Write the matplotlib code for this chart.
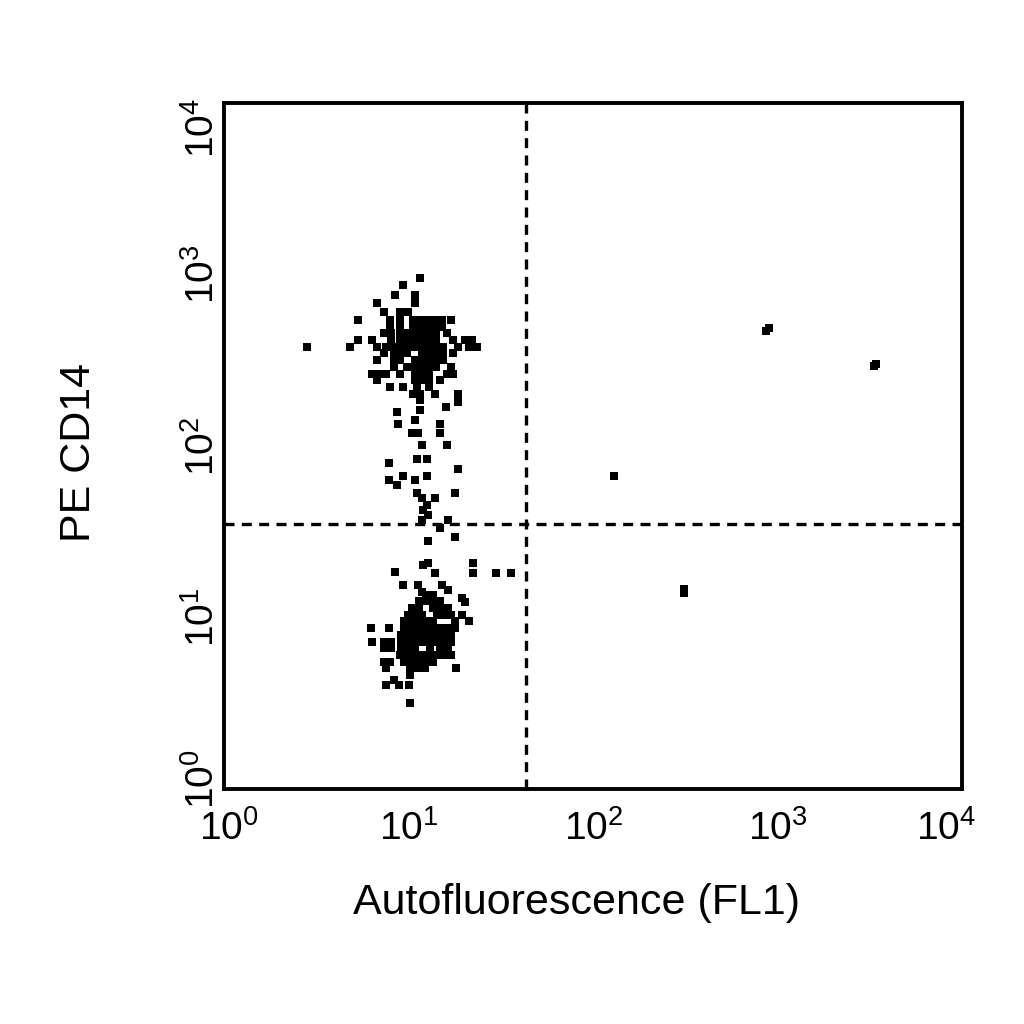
import numpy as np
import matplotlib
matplotlib.use("Agg")
import matplotlib.pyplot as plt
import matplotlib.transforms as mtransforms

plt.rcParams['font.family'] = ['Liberation Sans', 'DejaVu Sans']

# events as (FL1 channel, FL2 channel), 1024 channels over 4 decades
upper_pop = [
    (272, 763), (248, 752), (237, 738), (265, 738), (212, 726), (265, 726),
    (221, 712), (244, 712), (255, 712),
    (186, 700), (230, 700), (244, 700), (262, 700), (272, 700), (282, 700), (292, 700), (302, 700), (314, 700),
    (230, 690), (244, 690), (262, 690), (272, 690), (282, 690), (292, 690), (302, 690),
    (221, 680), (232, 680), (244, 680), (254, 680), (264, 680), (274, 680), (284, 680), (294, 680), (309, 680),
    (186, 670), (205, 670), (232, 670), (244, 670), (254, 670), (264, 670), (274, 670), (284, 670), (294, 670),
    (318, 670), (334, 670), (344, 670),
    (175, 660), (212, 660), (225, 660), (235, 660), (244, 660), (254, 660), (264, 660), (274, 660), (284, 660),
    (294, 660), (304, 660), (325, 660), (340, 660), (350, 660),
    (221, 650), (235, 650), (244, 650), (254, 650), (274, 650), (284, 650), (294, 650), (304, 650), (318, 650),
    (212, 640), (235, 640), (244, 640), (264, 640), (274, 640), (284, 640), (294, 640), (304, 640),
    (235, 630), (254, 630), (264, 630), (274, 630), (284, 630), (294, 630), (314, 630),
    (205, 620), (215, 620), (225, 620), (244, 620), (264, 620), (274, 620), (284, 620), (309, 620), (318, 620),
    (212, 610), (264, 610), (274, 610), (284, 610), (300, 610),
    (230, 600), (248, 600), (268, 600), (284, 600),
    (262, 590), (272, 590), (292, 590), (325, 590),
]

middle_pop = [
    (272, 580), (272, 566), (265, 551), (240, 563), (307, 570), (325, 578), (241, 545), (300, 545),
    (269, 531), (261, 531), (300, 531), (275, 513), (309, 513), (268, 493), (282, 493), (229, 487),
    (325, 478), (248, 467), (229, 461), (240, 454), (265, 461), (282, 467), (268, 442), (320, 442),
    (275, 434), (293, 434), (282, 424), (276, 416), (283, 409), (275, 401), (311, 401), (300, 390),
    (320, 376), (283, 370), (283, 337), (276, 334), (345, 337), (237, 324), (293, 322), (345, 322),
    (377, 322), (398, 322),
]

lower_pop = [
    (248, 304), (269, 304), (275, 294), (302, 304), (311, 297), (330, 285), (334, 279),
    (280, 290), (290, 290),
    (270, 280), (280, 280), (290, 280), (300, 280),
    (260, 270), (270, 270), (290, 270), (300, 270), (310, 270),
    (255, 260), (265, 260), (275, 260), (295, 260), (305, 260), (315, 260), (330, 260),
    (250, 250), (260, 250), (270, 250), (280, 250), (290, 250), (320, 250), (340, 250),
    (203, 240), (228, 240), (250, 240), (260, 240), (270, 240), (280, 240), (290, 240), (300, 240), (310, 240), (320, 240),
    (245, 230), (255, 230), (265, 230), (275, 230), (285, 230), (295, 230), (305, 230), (315, 230),
    (205, 220), (221, 220), (232, 220), (245, 220), (255, 220), (265, 220), (275, 220), (285, 220), (295, 220),
    (305, 220), (315, 220),
    (221, 210), (232, 210), (245, 210), (255, 210), (265, 210), (285, 210), (300, 210), (310, 210),
    (244, 200), (254, 200), (264, 200), (274, 200), (284, 200), (294, 200), (304, 200), (314, 200),
    (221, 190), (230, 190), (250, 190), (260, 190), (270, 190), (280, 190), (290, 190),
    (224, 180), (258, 180), (268, 180), (278, 180), (321, 180),
    (258, 170), (235, 163), (224, 155), (242, 155), (256, 155), (258, 128),
]

other_events = [
    (115, 660), (752, 684), (756, 688), (901, 631), (905, 634), (541, 467), (638, 292), (638, 299),
]

gate_fl1 = 43
gate_fl2 = 35

events = np.array(upper_pop + middle_pop + lower_pop + other_events, dtype=float)
fl1 = 10 ** (events[:, 0] / 256)
fl2 = 10 ** (events[:, 1] / 256)

fig = plt.figure(figsize=(10.24, 10.24), dpi=100)
ax = fig.add_axes([0.219, 0.2295, 0.7207, 0.67])

ax.scatter(fl1, fl2, marker='s', s=33, c='black', linewidths=0)

ax.axvline(gate_fl1, color='black', lw=2.4, ls=(0, (3, 2.2)))
ax.axhline(gate_fl2, color='black', lw=2.4, ls=(0, (3, 2.2)))

ax.set_xscale('log')
ax.set_yscale('log')
ax.set_xlim(1, 1e4)
ax.set_ylim(1, 1e4)
ax.set_xticks([1, 10, 100, 1000, 10000])
ax.set_yticks([1, 10, 100, 1000, 10000])
ax.minorticks_off()
ax.tick_params(length=0, labelsize=28)
ax.tick_params(axis='x', pad=15)
ax.tick_params(axis='y', labelrotation=90, pad=2)

for sp in ax.spines.values():
    sp.set_linewidth(2.8)

ax.set_xlabel('Autofluorescence (FL1)', fontsize=31)
ax.xaxis.set_label_coords(0.477, -0.137)
ax.set_ylabel('PE CD14', fontsize=31)
ax.yaxis.set_label_coords(-0.17, 0.49)

# end labels pulled inward as in the original
ylabs = ax.get_yticklabels()
for lab in ylabs:
    lab.set_va('center')
ylabs[0].set_transform(ylabs[0].get_transform() + mtransforms.ScaledTranslation(0, 10 / 100, fig.dpi_scale_trans))
ylabs[-1].set_transform(ylabs[-1].get_transform() + mtransforms.ScaledTranslation(0, -25 / 100, fig.dpi_scale_trans))
xlabs = ax.get_xticklabels()
xlabs[0].set_transform(xlabs[0].get_transform() + mtransforms.ScaledTranslation(5 / 100, 0, fig.dpi_scale_trans))
xlabs[-1].set_transform(xlabs[-1].get_transform() + mtransforms.ScaledTranslation(-16 / 100, 0, fig.dpi_scale_trans))

fig.savefig('out.png', dpi=100, facecolor='white')
